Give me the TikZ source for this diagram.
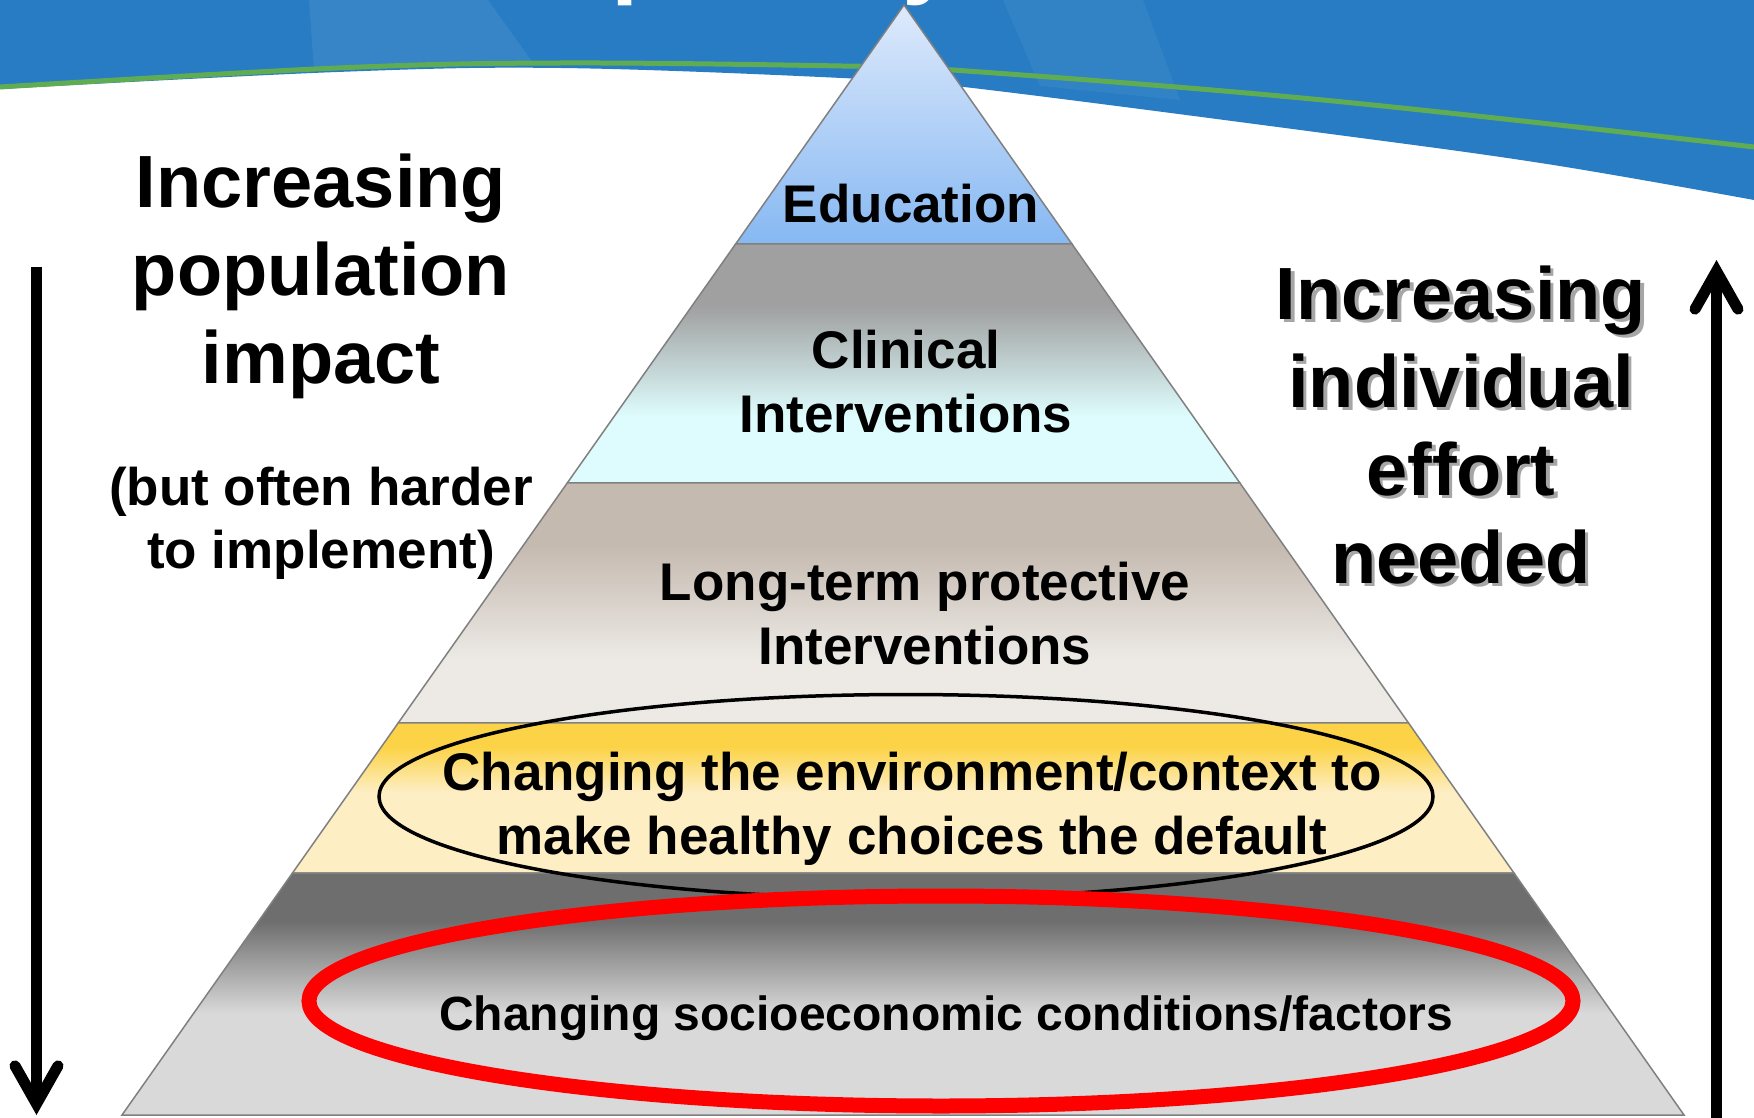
\documentclass[tikz,border=0pt]{standalone}
\usepackage{fontspec}
\setmainfont{Liberation Sans}
\usetikzlibrary{arrows.meta,calc}

\definecolor{bannerblue}{RGB}{40,124,195}
\definecolor{bannergreen}{RGB}{96,172,82}
\definecolor{edutop}{RGB}{222,234,252}
\definecolor{edubot}{RGB}{134,184,242}
\definecolor{clintop}{RGB}{160,160,160}
\definecolor{clinbot}{RGB}{222,252,253}
\definecolor{longtop}{RGB}{197,186,176}
\definecolor{longbot}{RGB}{237,234,230}
\definecolor{envtop}{RGB}{252,211,70}
\definecolor{envbot}{RGB}{253,238,196}
\definecolor{socitop}{RGB}{110,110,110}
\definecolor{socibot}{RGB}{217,217,217}
\definecolor{ringred}{RGB}{255,0,0}

% vertical shadings: 25bp = bottom of the layer, 75bp = top of the layer
\pgfdeclareverticalshading{edushade}{100bp}{color(0bp)=(edubot); color(25bp)=(edubot); color(75bp)=(edutop); color(100bp)=(edutop)}
\pgfdeclareverticalshading{clinshade}{100bp}{color(0bp)=(clinbot); color(39bp)=(clinbot); color(62bp)=(clintop); color(100bp)=(clintop)}
\pgfdeclareverticalshading{longshade}{100bp}{color(0bp)=(longbot); color(38bp)=(longbot); color(62bp)=(longtop); color(100bp)=(longtop)}
\pgfdeclareverticalshading{envshade}{100bp}{color(0bp)=(envbot); color(52bp)=(envbot); color(67bp)=(envtop); color(100bp)=(envtop)}
\pgfdeclareverticalshading{socishade}{100bp}{color(0bp)=(socibot); color(46bp)=(socibot); color(65bp)=(socitop); color(100bp)=(socitop)}

\begin{document}
\begin{tikzpicture}
  [x=1pt,y=-1pt,
   layer/.style={shade,draw=black!50,line width=1.5pt},
   tier/.style={font=\bfseries\fontsize{53}{64}\selectfont,align=center,inner sep=0pt,anchor=base},
   headline/.style={font=\bfseries\fontsize{74}{88}\selectfont,align=center,inner sep=0pt,anchor=base},
   aside/.style={font=\bfseries\fontsize{53}{63}\selectfont,align=center,inner sep=0pt,anchor=base},
   titleglyph/.style={font=\bfseries\fontsize{98}{98}\selectfont,text=white,inner sep=0pt,anchor=base west},
   bigarrow/.style={line width=11pt,-{Straight Barb[length=38pt,width=43pt,line cap=round,line join=miter]}}]

  \clip (0,0) rectangle (1754,1118);

  % banner at the top
  \fill[white] (0,0) rectangle (1754,1118);
  \fill[bannerblue] (0,0) -- (1754,0) -- plot[smooth,tension=0.6] coordinates
    {(1754,200) (1547,164) (1323,133) (964,87) (842,78) (561,68) (337,72) (0,89)} -- cycle;
  \fill[white,opacity=0.07] (309,0) -- (488,0) -- (533,63) -- (314,70) -- cycle;
  \fill[white,opacity=0.05] (1003,0) -- (1143,0) -- (1180,100) -- (1040,86) -- cycle;
  \draw[bannergreen,line width=5pt] plot[smooth,tension=0.6] coordinates
    {(0,87) (337,68) (561,63) (842,66) (953,70) (1323,100) (1754,147)};
  \node[titleglyph] (titlep) at (611,-14) {p};
  \node[titleglyph] (titley) at (902,-14) {y};

  % pyramid corners and the level lines
  \coordinate (apex) at (904,5);
  \coordinate (bl) at (122,1115);
  \coordinate (br) at (1684,1115);
  \foreach \t [count=\i] in {0.2153,0.4306,0.6468,0.7820,1}{
    \coordinate (l\i) at ($(apex)!\t!(bl)$);
    \coordinate (r\i) at ($(apex)!\t!(br)$);
  }

  \path[layer,shading=edushade] (apex) -- (l1) -- (r1) -- cycle;
  \path[layer,shading=clinshade] (l1) -- (l2) -- (r2) -- (r1) -- cycle;
  \path[layer,shading=longshade] (l2) -- (l3) -- (r3) -- (r2) -- cycle;
  \path[layer,shading=envshade] (l3) -- (l4) -- (r4) -- (r3) -- cycle;
  \path[layer,shading=socishade] (l4) -- (l5) -- (r5) -- (r4) -- cycle;

  % rings
  \draw[line width=3.5pt] (906,796.5) ellipse [x radius=527,y radius=102];
  \draw[ringred,line width=15pt] (941,1001) ellipse [x radius=632,y radius=105];

  % labels of the levels (base = baseline of the last line)
  \node[tier] (edu) at (911,223) {Education};
  \node[tier] (clin) at (906,432) {Clinical\\Interventions};
  \node[tier] (prot) at (925,664) {Long-term protective\\Interventions};
  \node[tier] (envr) at (912,854) {Changing the environment/context to\\make healthy choices the default};
  \node[tier,font=\bfseries\fontsize{48}{58}\selectfont] (socio) at (946,1030) {Changing socioeconomic conditions/factors};

  % side texts
  \node[headline] (impact) at (321,383) {Increasing\\population\\impact};
  \node[aside] (harder) at (321,568) {(but often harder\\to implement)};
  \node[headline,text=black!35] (effortshadow) at (1464.5,586.5) {Increasing\\individual\\effort\\needed};
  \node[headline] (effort) at (1461,583) {Increasing\\individual\\effort\\needed};

  % arrows
  \coordinate (downtop) at (36.5,267);
  \coordinate (downtip) at (36.5,1115);
  \coordinate (upfoot) at (1716.5,1130);
  \coordinate (uptip) at (1716.5,260);
  \draw[bigarrow] (downtop) -- (downtip);
  \draw[bigarrow] (upfoot) -- (uptip);

\end{tikzpicture}
\end{document}
